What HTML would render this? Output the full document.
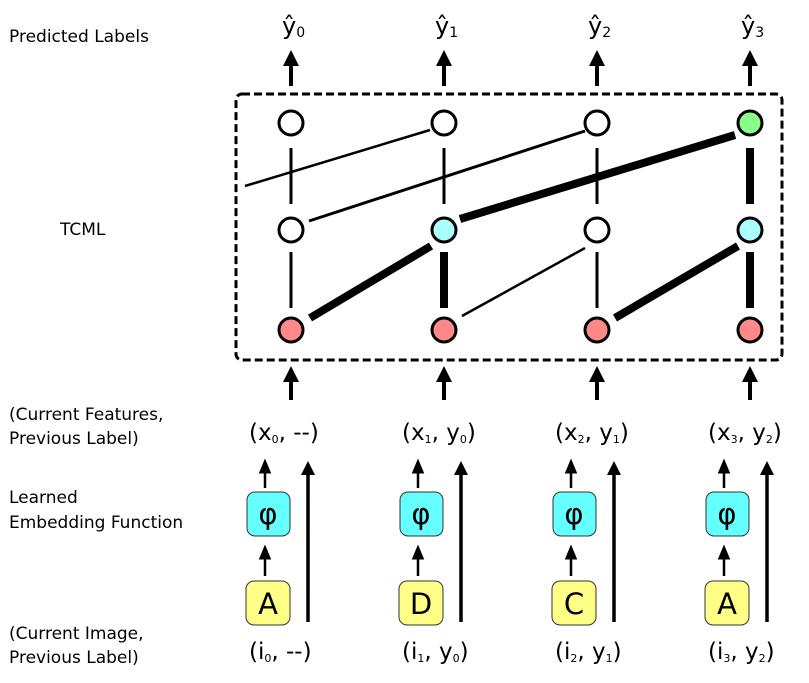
<!DOCTYPE html><html><head><style>body{margin:0;background:#fff}svg text{font-family:"DejaVu Sans","Liberation Sans",sans-serif}</style></head><body>
<svg width="809" height="678" xmlns="http://www.w3.org/2000/svg">
<defs><marker id="a" markerWidth="4" markerHeight="4" refX="2" refY="2" orient="auto" markerUnits="strokeWidth"><path d="M0,0L4,2L0,4z" fill="#000"/></marker>
<marker id="b" markerWidth="6" markerHeight="6" refX="3" refY="3" orient="auto" markerUnits="strokeWidth"><path d="M0,0.5L6,3L0,5.5z" fill="#000"/></marker></defs>
<g font-size="17" fill="#000">
<text x="9" y="42">Predicted Labels</text>
<text x="60" y="235">TCML</text>
<text x="9" y="420">(Current Features,</text><text x="9" y="444">Previous Label)</text>
<text x="9" y="503">Learned</text><text x="9" y="528">Embedding Function</text>
<text x="9" y="639">(Current Image,</text><text x="9" y="663">Previous Label)</text>
</g>
<rect x="236" y="94" width="546" height="266" rx="6" fill="none" stroke="#000" stroke-width="3" stroke-dasharray="8,4"/>
<g stroke="#000" stroke-linecap="butt">
<line x1="245" y1="186" x2="430" y2="130" stroke-width="2.5"/>
<line x1="309" y1="221" x2="585" y2="131" stroke-width="3"/>
<line x1="460" y1="219" x2="735" y2="135" stroke-width="8"/>
<line x1="310" y1="318" x2="431" y2="246" stroke-width="8"/>
<line x1="462" y1="316" x2="585" y2="248" stroke-width="2.5"/>
<line x1="615" y1="318" x2="738" y2="246" stroke-width="8"/>
<line x1="291" y1="148" x2="291" y2="204" stroke-width="3"/>
<line x1="291" y1="252" x2="291" y2="308" stroke-width="3"/>
<line x1="444" y1="148" x2="444" y2="204" stroke-width="3"/>
<line x1="444" y1="252" x2="444" y2="308" stroke-width="8"/>
<line x1="597" y1="148" x2="597" y2="204" stroke-width="3"/>
<line x1="597" y1="252" x2="597" y2="308" stroke-width="3"/>
<line x1="750" y1="148" x2="750" y2="204" stroke-width="8"/>
<line x1="750" y1="252" x2="750" y2="308" stroke-width="8"/>
</g>
<g stroke="#000" stroke-width="3">
<circle cx="291" cy="123" r="12" fill="#fff"/><circle cx="444" cy="123" r="12" fill="#fff"/><circle cx="597" cy="123" r="12" fill="#fff"/><circle cx="750" cy="123" r="12" fill="#8f8"/>
<circle cx="291" cy="230" r="12" fill="#fff"/><circle cx="444" cy="230" r="12" fill="#aff"/><circle cx="597" cy="230" r="12" fill="#fff"/><circle cx="750" cy="230" r="12" fill="#aff"/>
<circle cx="291" cy="330" r="12" fill="#f88"/><circle cx="444" cy="330" r="12" fill="#f88"/><circle cx="597" cy="330" r="12" fill="#f88"/><circle cx="750" cy="330" r="12" fill="#f88"/>
</g>
<g id="col">
<line x1="291" y1="86" x2="291" y2="58" stroke="#000" stroke-width="4" marker-end="url(#a)"/>
<line x1="291" y1="400" x2="291" y2="374" stroke="#000" stroke-width="4" marker-end="url(#a)"/>
<line x1="265" y1="488" x2="265" y2="466" stroke="#000" stroke-width="2.5" marker-end="url(#b)"/>
<line x1="265" y1="576" x2="265" y2="552" stroke="#000" stroke-width="2.5" marker-end="url(#b)"/>
<line x1="308" y1="622" x2="308" y2="468" stroke="#000" stroke-width="3.5" marker-end="url(#a)"/>
<rect x="247" y="492" width="43" height="44" rx="8" fill="#6ff" stroke="#333" stroke-width="1"/>
<rect x="246" y="581" width="44" height="44" rx="8" fill="#ff8" stroke="#333" stroke-width="1"/>
</g>
<use href="#col" x="153"/><use href="#col" x="306"/><use href="#col" x="459"/>
<g font-size="29" text-anchor="middle">
<text x="268" y="524">φ</text><text x="421" y="524">φ</text><text x="574" y="524">φ</text><text x="727" y="524">φ</text>
<text x="268" y="614">A</text><text x="421" y="614">D</text><text x="574" y="614">C</text><text x="727" y="614">A</text>
</g>
<g font-size="24">
<text x="282" y="34">ŷ<tspan font-size="14" dy="3">0</tspan></text>
<text x="435" y="34">ŷ<tspan font-size="14" dy="3">1</tspan></text>
<text x="588" y="34">ŷ<tspan font-size="14" dy="3">2</tspan></text>
<text x="741" y="34">ŷ<tspan font-size="14" dy="3">3</tspan></text>
</g>
<g font-size="23">
<text x="249" y="440">(x<tspan font-size="11" dy="3">0</tspan><tspan dy="-3">, --)</tspan></text>
<text x="402" y="440">(x<tspan font-size="11" dy="3">1</tspan><tspan dy="-3">, y</tspan><tspan font-size="11" dy="3">0</tspan><tspan dy="-3">)</tspan></text>
<text x="555" y="440">(x<tspan font-size="11" dy="3">2</tspan><tspan dy="-3">, y</tspan><tspan font-size="11" dy="3">1</tspan><tspan dy="-3">)</tspan></text>
<text x="708" y="440">(x<tspan font-size="11" dy="3">3</tspan><tspan dy="-3">, y</tspan><tspan font-size="11" dy="3">2</tspan><tspan dy="-3">)</tspan></text>
<text x="249" y="659">(i<tspan font-size="11" dy="3">0</tspan><tspan dy="-3">, --)</tspan></text>
<text x="402" y="659">(i<tspan font-size="11" dy="3">1</tspan><tspan dy="-3">, y</tspan><tspan font-size="11" dy="3">0</tspan><tspan dy="-3">)</tspan></text>
<text x="555" y="659">(i<tspan font-size="11" dy="3">2</tspan><tspan dy="-3">, y</tspan><tspan font-size="11" dy="3">1</tspan><tspan dy="-3">)</tspan></text>
<text x="708" y="659">(i<tspan font-size="11" dy="3">3</tspan><tspan dy="-3">, y</tspan><tspan font-size="11" dy="3">2</tspan><tspan dy="-3">)</tspan></text>
</g>
</svg></body></html>
